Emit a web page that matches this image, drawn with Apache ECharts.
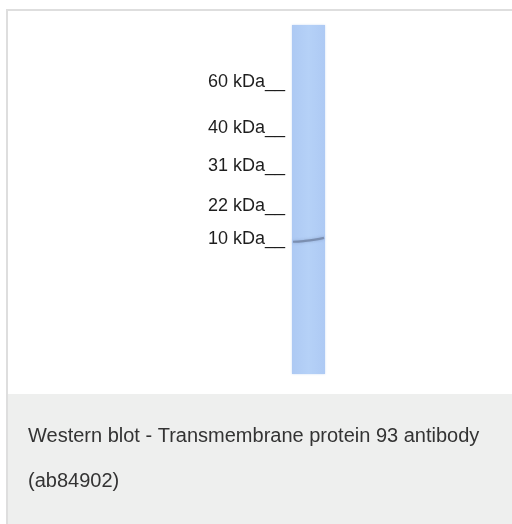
<!DOCTYPE html>
<html>
<head>
<meta charset="utf-8">
<script src="https://cdn.jsdelivr.net/npm/echarts@6/dist/echarts.min.js"></script>
<style>
  html, body { margin: 0; padding: 0; background: #fff; }
  #main { width: 512px; height: 524px; }
</style>
</head>
<body>
<div id="main"></div>
<script>
// ladder markers (kDa) and where they sit along the lane, % of lane length from the top
const markerKDa = [60, 40, 31, 22, 10];
const markerPos = [16.3, 29.5, 40.3, 51.9, 61.3];
// one lane, full length
const lanes = ["Lane 1"];
const laneLength = [100];
// detected band: [position across lane 0..1, migration %]
const bandTrace = [[0.03, 62.1], [0.35, 61.9], [0.7, 61.5], [0.97, 61.0]];
const caption = "Western blot - Transmembrane protein 93 antibody (ab84902)";

const chart = echarts.init(document.getElementById("main"));
const option = {
  backgroundColor: "#fff",
  animation: false,
  title: {
    text: caption,
    left: 28,
    top: 414,
    padding: 0,
    textStyle: {
      fontFamily: "Liberation Sans, Arial, sans-serif",
      fontSize: 20,
      fontWeight: "normal",
      color: "#333",
      lineHeight: 45,
      width: 470,
      overflow: "break",
    },
  },
  graphic: [
    // caption panel
    { type: "rect", z: -10, shape: { x: 8, y: 394, width: 504, height: 130 }, style: { fill: "#eeefee" } },
    // frame
    { type: "rect", z: -9, shape: { x: 6, y: 9, width: 2, height: 515 }, style: { fill: "#dedede" } },
    { type: "rect", z: -9, shape: { x: 6, y: 9, width: 506, height: 2 }, style: { fill: "#dedede" } },
  ],
  grid: {
    left: 292,
    right: 187,
    top: 25,
    bottom: 150,
  },
  xAxis: [
    { type: "category", data: lanes, show: false },
    { type: "value", min: 0, max: 1, show: false },
  ],
  yAxis: {
    type: "value",
    inverse: true,
    min: 0,
    max: 100,
    axisLine: { show: false },
    axisTick: { show: false },
    splitLine: { show: false },
    axisLabel: {
      customValues: markerPos,
      margin: 7,
      fontFamily: "Liberation Sans, Arial, sans-serif",
      fontSize: 18,
      color: "#1e1e1e",
      formatter: v => {
        const i = markerPos.indexOf(v);
        return i < 0 ? "" : markerKDa[i] + " kDa__";
      },
    },
  },
  series: [
    {
      type: "bar",
      xAxisIndex: 0,
      data: laneLength,
      barWidth: "100%",
      itemStyle: {
        color: new echarts.graphic.LinearGradient(0, 0, 1, 0, [
          { offset: 0, color: "#adc9f3" },
          { offset: 0.5, color: "#b5d1f7" },
          { offset: 1, color: "#aecaf4" },
        ]),
        shadowBlur: 2,
        shadowColor: "rgba(170,198,240,0.6)",
      },
    },
    {
      type: "line",
      xAxisIndex: 1,
      data: bandTrace,
      smooth: true,
      symbol: "none",
      lineStyle: {
        color: "#7487a8",
        width: 2.2,
        opacity: 0.85,
        shadowBlur: 3,
        shadowColor: "rgba(100,120,160,0.5)",
      },
    },
  ],
};
chart.setOption(option);
</script>
</body>
</html>
